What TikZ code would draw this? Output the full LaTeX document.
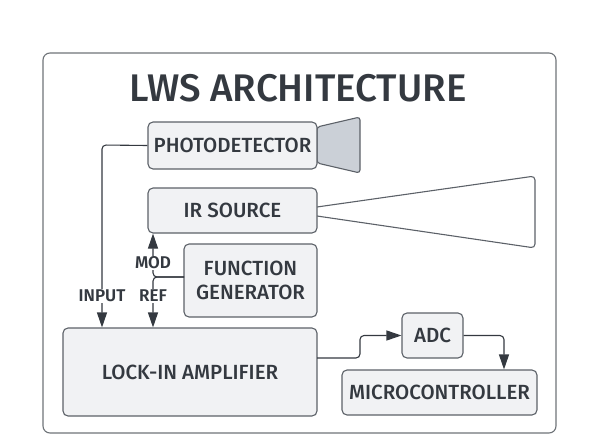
\documentclass[tikz,border=0pt]{standalone}
\usepackage{fontspec}
\setmainfont{Fira Sans Medium}[BoldFont={Fira Sans SemiBold}]
\usetikzlibrary{arrows.meta}
\definecolor{ink}{HTML}{343940}
\definecolor{edge}{HTML}{5C6168}
\definecolor{boxfill}{HTML}{F1F2F4}
\definecolor{conefill}{HTML}{CBD0D7}
\definecolor{framec}{HTML}{6E7378}
\tikzset{
  blk/.style={draw=edge, fill=boxfill, line width=1.1pt, rounded corners=5pt,
    inner sep=0pt, font=\fontsize{20.5}{24}\selectfont, text=ink, align=center},
  conn/.style={draw=ink, line width=1.1pt},
  arr/.style={conn, -{Triangle[length=15pt,width=10pt]}},
  lbl/.style={fill=white, inner sep=1pt, font=\bfseries\fontsize{17}{19}\selectfont, text=ink}
}
\begin{document}
\begin{tikzpicture}[x=1pt,y=-1pt]
\useasboundingbox (0,0) rectangle (598,442);
% frame
\draw[framec, line width=1.1pt, rounded corners=7pt] (43,53) rectangle (556,433);
\node[text=ink, font=\fontsize{38.5}{44}\selectfont] (title) at (298,88) {LWS ARCHITECTURE};
% cone and beam
\draw[edge, fill=conefill, line width=1.1pt, rounded corners=3pt] (317,127) -- (360,117) -- (360,173) -- (317,163) -- cycle;
\draw[edge, line width=1.1pt, rounded corners=4pt] (317,207) -- (535,176) -- (535,248) -- (317,216);
% blocks
\node[blk, minimum width=169pt, minimum height=47pt] (pd) at (232.5,145.5) {PHOTODETECTOR};
\node[blk, minimum width=169pt, minimum height=45pt] (ir) at (232.5,210.5) {IR SOURCE};
\node[blk, minimum width=133pt, minimum height=73pt] (fg) at (250.5,280.5) {FUNCTION\\GENERATOR};
\node[blk, minimum width=254pt, minimum height=88pt] (li) at (190,372) {LOCK-IN AMPLIFIER};
\node[blk, minimum width=61pt, minimum height=45pt] (adc) at (432.5,335.5) {ADC};
\node[blk, minimum width=195pt, minimum height=45pt] (mc) at (439.5,392.5) {MICROCONTROLLER};
% coordinates
\coordinate (inx) at (102,145);
\coordinate (fgo) at (184,277);
\coordinate (j) at (153,277);
\coordinate (lio) at (317,358);
\coordinate (b1) at (360,358);
\coordinate (b2) at (360,335.5);
\coordinate (b3) at (504,335.5);
% connectors
\draw[arr] (pd.west) [rounded corners=4pt] -- (inx) -- (inx |- li.north) [sharp corners];
\draw[arr] (fgo) [rounded corners=4pt] -- (j) -- (j |- ir.south) [sharp corners];
\draw[arr] (fgo) [rounded corners=4pt] -- (j) -- (j |- li.north) [sharp corners];
\draw[arr] (lio) [rounded corners=4pt] -- (b1) -- (b2) -- (adc.west) [sharp corners];
\draw[arr] (adc.east) [rounded corners=4pt] -- (b3) -- (b3 |- mc.north) [sharp corners];
% labels
\node[lbl] (lin) at (102,296) {INPUT};
\node[lbl] (lmod) at (153,263) {MOD};
\node[lbl] (lref) at (153,296) {REF};
\end{tikzpicture}
\end{document}
